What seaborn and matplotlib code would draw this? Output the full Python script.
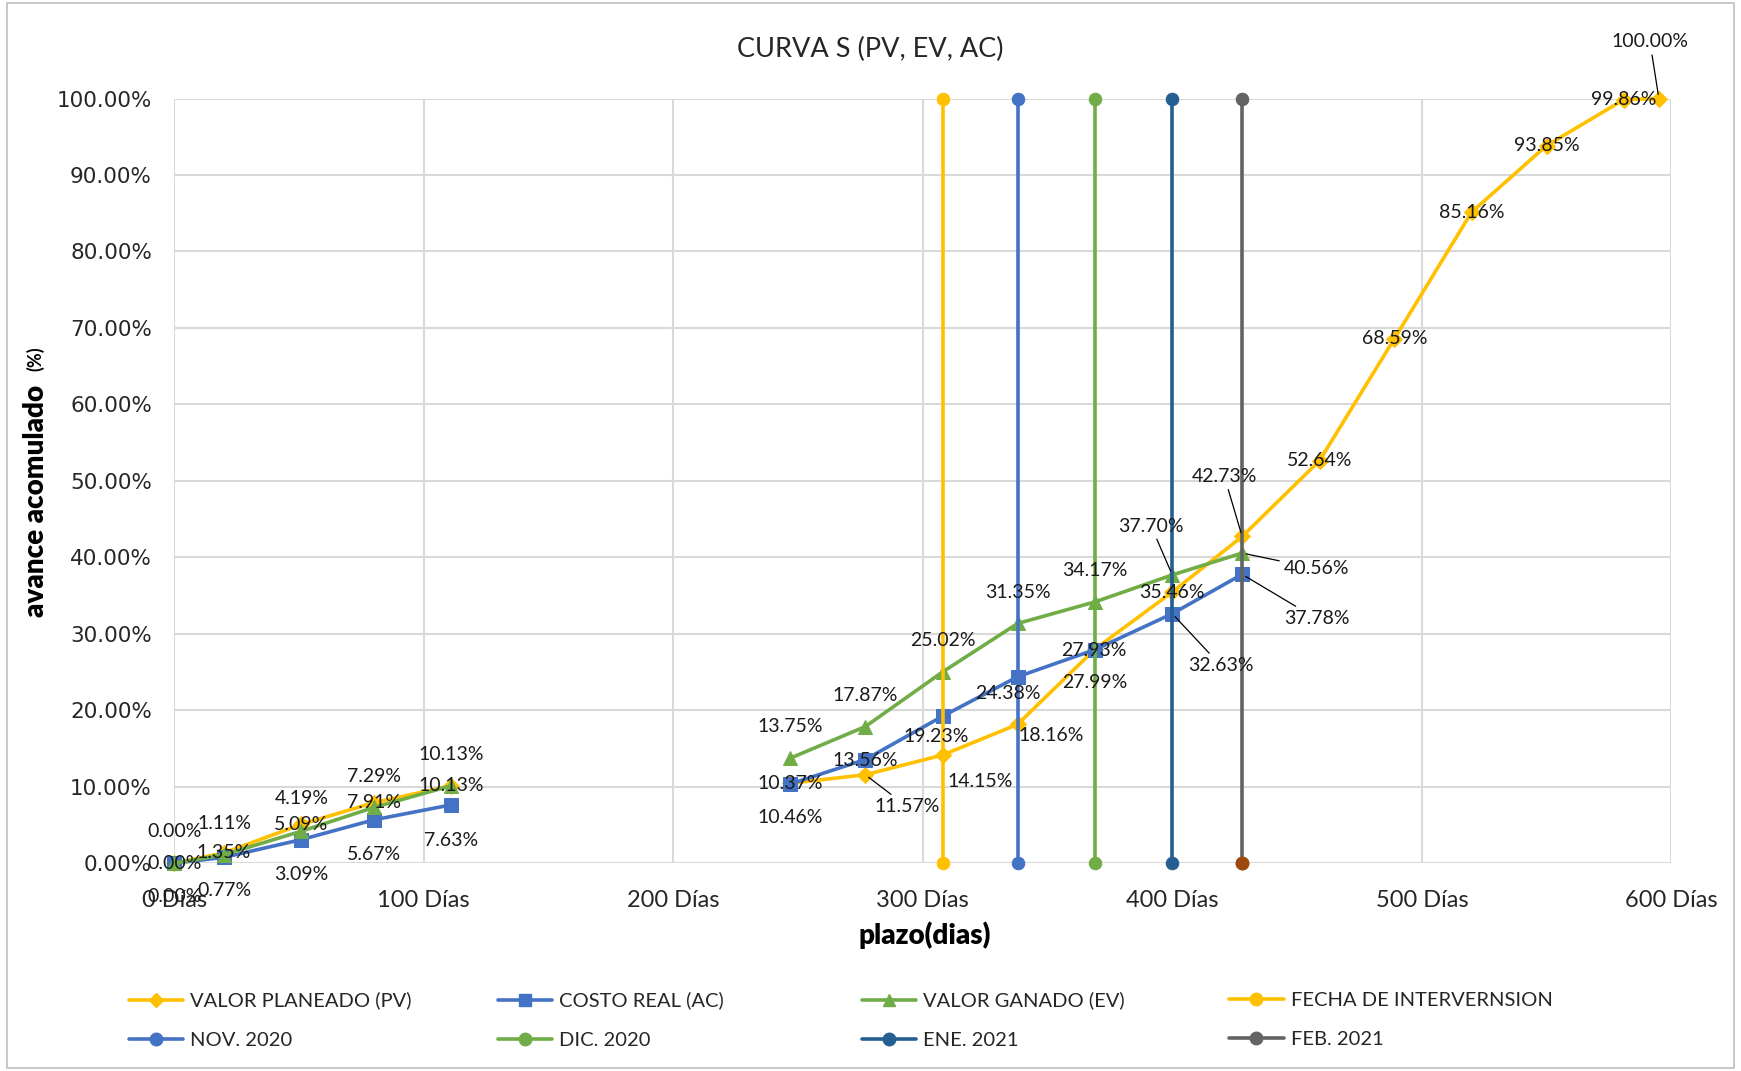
import matplotlib
matplotlib.use("Agg")
import matplotlib.pyplot as plt
from matplotlib.lines import Line2D
from matplotlib.patches import Rectangle
import pandas as pd
import seaborn as sns

# datos de la curva S
dias = [0, 20, 51, 80, 111, 247, 277, 308, 338, 369, 400, 428, 459, 489, 520, 550, 581, 595]
pv = [0.00, 1.35, 5.09, 7.91, 10.13, 10.46, 11.57, 14.15, 18.16, 27.99, 35.46, 42.73,
      52.64, 68.59, 85.16, 93.85, 99.86, 100.00]
dias_real = dias[:12]
ac = [0.00, 0.77, 3.09, 5.67, 7.63, 10.37, 13.56, 19.23, 24.38, 27.93, 32.63, 37.78]
ev = [0.00, 1.11, 4.19, 7.29, 10.13, 13.75, 17.87, 25.02, 31.35, 34.17, 37.70, 40.56]
tramo_pv = [1] * 5 + [2] * 13
tramo_real = [1] * 5 + [2] * 7

# fechas de corte (lineas verticales)
fechas = ["FECHA DE INTERVERNSION", "NOV. 2020", "DIC. 2020", "ENE. 2021", "FEB. 2021"]
dias_fechas = [308, 338, 369, 400, 428]

x_ticks = [0, 100, 200, 300, 400, 500, 600]
y_ticks = [0, 10, 20, 30, 40, 50, 60, 70, 80, 90, 100]

curvas = pd.concat([
    pd.DataFrame({"dias": dias, "avance": pv, "tramo": tramo_pv, "serie": "VALOR PLANEADO (PV)"}),
    pd.DataFrame({"dias": dias_real, "avance": ac, "tramo": tramo_real, "serie": "COSTO REAL (AC)"}),
    pd.DataFrame({"dias": dias_real, "avance": ev, "tramo": tramo_real, "serie": "VALOR GANADO (EV)"}),
])
verticales = pd.DataFrame({
    "dias": [d for d in dias_fechas for _ in range(2)],
    "avance": [0, 100] * len(dias_fechas),
    "serie": [f for f in fechas for _ in range(2)],
})

estilo = {
    "VALOR PLANEADO (PV)": ("#FFC000", "D", 8),
    "COSTO REAL (AC)": ("#4472C4", "s", 10),
    "VALOR GANADO (EV)": ("#70AD47", "^", 10),
}
color_fechas = {
    "FECHA DE INTERVERNSION": "#FFC000",
    "NOV. 2020": "#4472C4",
    "DIC. 2020": "#70AD47",
    "ENE. 2021": "#255E91",
    "FEB. 2021": "#636363",
}

sns.set_style("white")
plt.rcParams["font.family"] = ["Lato", "DejaVu Sans"]

fig = plt.figure(figsize=(17.41, 10.71), dpi=100)
ax = fig.add_axes([0.100, 0.194, 0.860, 0.714])

for serie, (col, mk, ms) in estilo.items():
    sns.lineplot(data=curvas[curvas["serie"] == serie], x="dias", y="avance",
                 units="tramo", estimator=None, sort=False, color=col, lw=2.6,
                 marker=mk, markersize=ms, markeredgecolor=col, ax=ax, legend=False,
                 zorder=3)

for serie, col in color_fechas.items():
    sns.lineplot(data=verticales[verticales["serie"] == serie], x="dias", y="avance",
                 estimator=None, sort=False, color=col, lw=2.6, marker="o",
                 markersize=9, markeredgecolor=col, ax=ax, legend=False, zorder=4)

# el marcador inferior de FEB. 2021 sale en otro color
feb = verticales[(verticales["serie"] == "FEB. 2021") & (verticales["avance"] == 0)]
sns.scatterplot(data=feb, x="dias", y="avance", color="#9E480E", s=85,
                edgecolor="#9E480E", ax=ax, zorder=5, legend=False)

for art in ax.lines + ax.collections:
    art.set_clip_on(False)

# etiquetas de datos: desplazamiento (px de pantalla aprox.) y linea guia
off_pv = [(0, 0), (0, 0), (0, 0), (0, 0), (0, 0), (0, 31), (38, 29), (34, 24), (30, 10),
          (0, 30), (0, 0), (-16, -54), (0, 0), (0, 0), (0, 0), (0, 0), (0, 0), (-8, -51)]
guia_pv = [6, 11, 17]
off_ev = [(0, -29), (0, -28), (0, -29), (0, -28), (0, -28), (0, -28), (0, -28), (0, -28),
          (0, -28), (0, -28), (-19, -44), (67, 14)]
guia_ev = [10, 11]
off_ac = [(0, 30), (0, 30), (0, 31), (0, 31), (0, 32), (0, 0), (0, 1), (-6, 18), (-9, 15),
          (-1, 1), (44, 47), (67, 40)]
guia_ac = [10, 11]


def etiquetas(xs, ys, offs, guias):
    for i, (x, y) in enumerate(zip(xs, ys)):
        dx, dy = offs[i]
        kw = {}
        if i in guias:
            kw["arrowprops"] = dict(arrowstyle="-", color="black", lw=0.9,
                                    shrinkA=1, shrinkB=3)
        ax.annotate(f"{y:.2f}%", (x, y), xytext=(dx * 0.8, -dy * 0.8),
                    textcoords="offset points", ha="center", va="center",
                    fontsize=14, color="#1a1a1a", zorder=6, annotation_clip=False, **kw)


etiquetas(dias, pv, off_pv, guia_pv)
etiquetas(dias_real, ev, off_ev, guia_ev)
etiquetas(dias_real, ac, off_ac, guia_ac)

ax.set_xlim(0, 600)
ax.set_ylim(0, 100)
ax.set_xticks(x_ticks)
ax.set_xticklabels([f"{d} Días" for d in x_ticks], fontsize=17, color="#262626")
ax.set_yticks(y_ticks)
ax.set_yticklabels([f"{v:.2f}%" for v in y_ticks], fontsize=15.5, color="#262626",
                   family="DejaVu Sans")
ax.tick_params(axis="both", length=0)
ax.tick_params(axis="y", pad=16)
ax.tick_params(axis="x", pad=19)
ax.grid(True, color="#D9D9D9", lw=1.5)
ax.set_axisbelow(True)
for sp in ax.spines.values():
    sp.set_visible(False)
ax.set_xlabel("")
ax.set_ylabel("")

fig.text(0.5, 0.954, "CURVA S (PV, EV, AC)", ha="center", va="center",
         fontsize=19.5, color="#262626")
fig.text(0.531, 0.127, "plazo(dias)", ha="center", va="center", fontsize=20,
         fontweight="heavy", color="black")
fig.text(0.0205, 0.532, "avance acomulado", ha="center", va="center", rotation=90,
         fontsize=20, fontweight="heavy", color="black")
fig.text(0.0205, 0.665, "(%)", ha="center", va="center", rotation=90,
         fontsize=13, fontweight="bold", color="black")

# leyenda en 4 columnas (como en Excel)
def h(col, mk, ms):
    return Line2D([], [], color=col, lw=2.6, marker=mk, markersize=ms, markeredgecolor=col)


columnas = [
    [("VALOR PLANEADO (PV)", h("#FFC000", "D", 7)), ("NOV. 2020", h("#4472C4", "o", 9))],
    [("COSTO REAL (AC)", h("#4472C4", "s", 9)), ("DIC. 2020", h("#70AD47", "o", 9))],
    [("VALOR GANADO (EV)", h("#70AD47", "^", 9)), ("ENE. 2021", h("#255E91", "o", 9))],
    [("FECHA DE INTERVERNSION", h("#FFC000", "o", 9)), ("FEB. 2021", h("#636363", "o", 9))],
]
x_leg = [0.074, 0.286, 0.495, 0.706]
for xl, colm in zip(x_leg, columnas):
    fig.legend([c[1] for c in colm], [c[0] for c in colm], loc="upper left",
               bbox_to_anchor=(xl, 0.074), frameon=False, fontsize=14.5,
               handlelength=2.7, handletextpad=0.35, labelspacing=1.1,
               labelcolor="#262626", borderaxespad=0, borderpad=0)

fig.add_artist(Rectangle((0.004, 0.003), 0.992, 0.994, transform=fig.transFigure,
                         fill=False, edgecolor="#BFBFBF", lw=1.2))

fig.savefig("out.png", dpi=100)
